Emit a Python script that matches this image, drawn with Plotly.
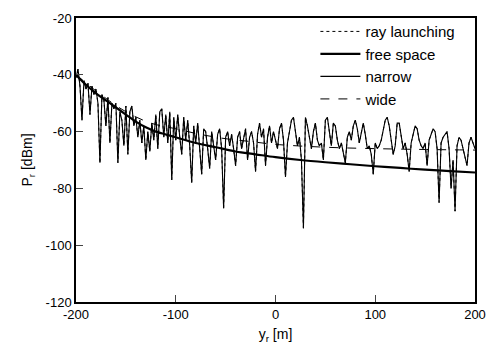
import numpy as np
import plotly.graph_objects as go

# receiver position grid for the sampled curves [m]
x_start, x_end, x_step = -200, 200, 2

narrow = [
    -41, -38, -44, -56, -42, -45, -43, -54, -44, -47,
    -45, -50, -71, -47, -49, -58, -48, -64, -50, -52,
    -50, -71, -53, -56, -65, -51, -68, -53, -51, -58,
    -55, -62, -56, -64, -58, -70, -60, -67, -57, -63,
    -54, -66, -53, -52, -62, -54, -64, -53, -77, -55,
    -63, -54, -62, -68, -55, -63, -56, -65, -78, -58,
    -64, -57, -66, -75, -59, -60, -66, -73, -60, -65,
    -70, -61, -59, -66, -87, -62, -60, -65, -61, -66,
    -72, -62, -60, -66, -63, -59, -70, -62, -60, -64,
    -74, -61, -57, -62, -59, -72, -62, -58, -64, -60,
    -63, -66, -59, -57, -63, -76, -64, -60, -56, -55,
    -60, -65, -62, -70, -94, -55, -58, -62, -66, -60,
    -57, -63, -65, -64, -70, -56, -55, -60, -65, -57,
    -58, -63, -66, -64, -67, -71, -62, -60, -63, -58,
    -56, -59, -64, -60, -57, -61, -66, -65, -68, -75,
    -64, -66, -65, -63, -59, -56, -55, -58, -63, -68,
    -65, -57, -57, -62, -66, -64, -68, -74, -64, -61,
    -58, -59, -63, -65, -66, -64, -72, -63, -61, -59,
    -60, -66, -85, -64, -62, -61, -60, -66, -80, -70,
    -88, -65, -62, -63, -66, -68, -72, -64, -62, -64,
    -66,
]
ray_launching = list(narrow)

free_x = [-200, -190, -180, -170, -160, -150, -140, -130, -120, -110, -100,
          -80, -60, -40, -20, 0, 25, 50, 75, 100, 125, 150, 175, 200]
free_space = [-40, -43.5, -46.5, -49, -51.5, -54, -56.5, -58.5, -60, -61, -62,
              -64, -65.5, -67, -68, -69, -70, -70.8, -71.5, -72.2, -72.8, -73.4, -73.9, -74.4]

wide_x = [-200, -175, -150, -125, -100, -75, -50, -25, 0, 50, 100, 150, 200]
wide = [-40, -47, -53, -57, -59, -61, -62.5, -63.5, -64.5, -65.5, -66, -66.3, -66.5]

x_ticks = [-200, -100, 0, 100, 200]
x_ticktext = ["-200", "-100", "0", "100", "200"]
y_ticks = [-120, -100, -80, -60, -40, -20]
y_ticktext = ["-120", "-100", "-80", "-60", "-40", "-20"]

xs = np.arange(x_start, x_end + x_step, x_step)

fig = go.Figure()
fig.add_trace(go.Scatter(x=xs, y=ray_launching, name="ray launching", mode="lines",
                         line=dict(color="black", width=1, dash="dot")))
fig.add_trace(go.Scatter(x=free_x, y=free_space, name="free space", mode="lines",
                         line=dict(color="black", width=2.2, shape="spline")))
fig.add_trace(go.Scatter(x=xs, y=narrow, name="narrow", mode="lines",
                         line=dict(color="black", width=1.1)))
fig.add_trace(go.Scatter(x=wide_x, y=wide, name="wide", mode="lines",
                         line=dict(color="black", width=1, dash="dash", shape="spline")))

font = "Liberation Sans, Arial, sans-serif"
fig.update_layout(
    width=497, height=357,
    margin=dict(l=76, r=19, t=11, b=55),
    paper_bgcolor="white", plot_bgcolor="white",
    font=dict(family=font, size=13, color="black"),
    showlegend=True,
    legend=dict(x=0.6, y=1.01, xanchor="left", yanchor="top",
                bgcolor="rgba(0,0,0,0)", font=dict(size=15, family=font),
                itemwidth=40),
    xaxis=dict(range=[-200, 200], tickvals=x_ticks, ticktext=x_ticktext,
               ticks="inside", ticklen=7,
               showline=True, linecolor="black", linewidth=1.5, mirror=True,
               showgrid=False, zeroline=False,
               title=dict(text="y<sub>r</sub> [m]", font=dict(size=14), standoff=8)),
    yaxis=dict(range=[-120, -20], tickvals=y_ticks, ticktext=y_ticktext,
               ticks="inside", ticklen=7,
               showline=True, linecolor="black", linewidth=1.5, mirror=True,
               showgrid=False, zeroline=False,
               title=dict(text="P<sub>r</sub> [dBm]", font=dict(size=14), standoff=10)),
)

fig.write_html("out.html")
